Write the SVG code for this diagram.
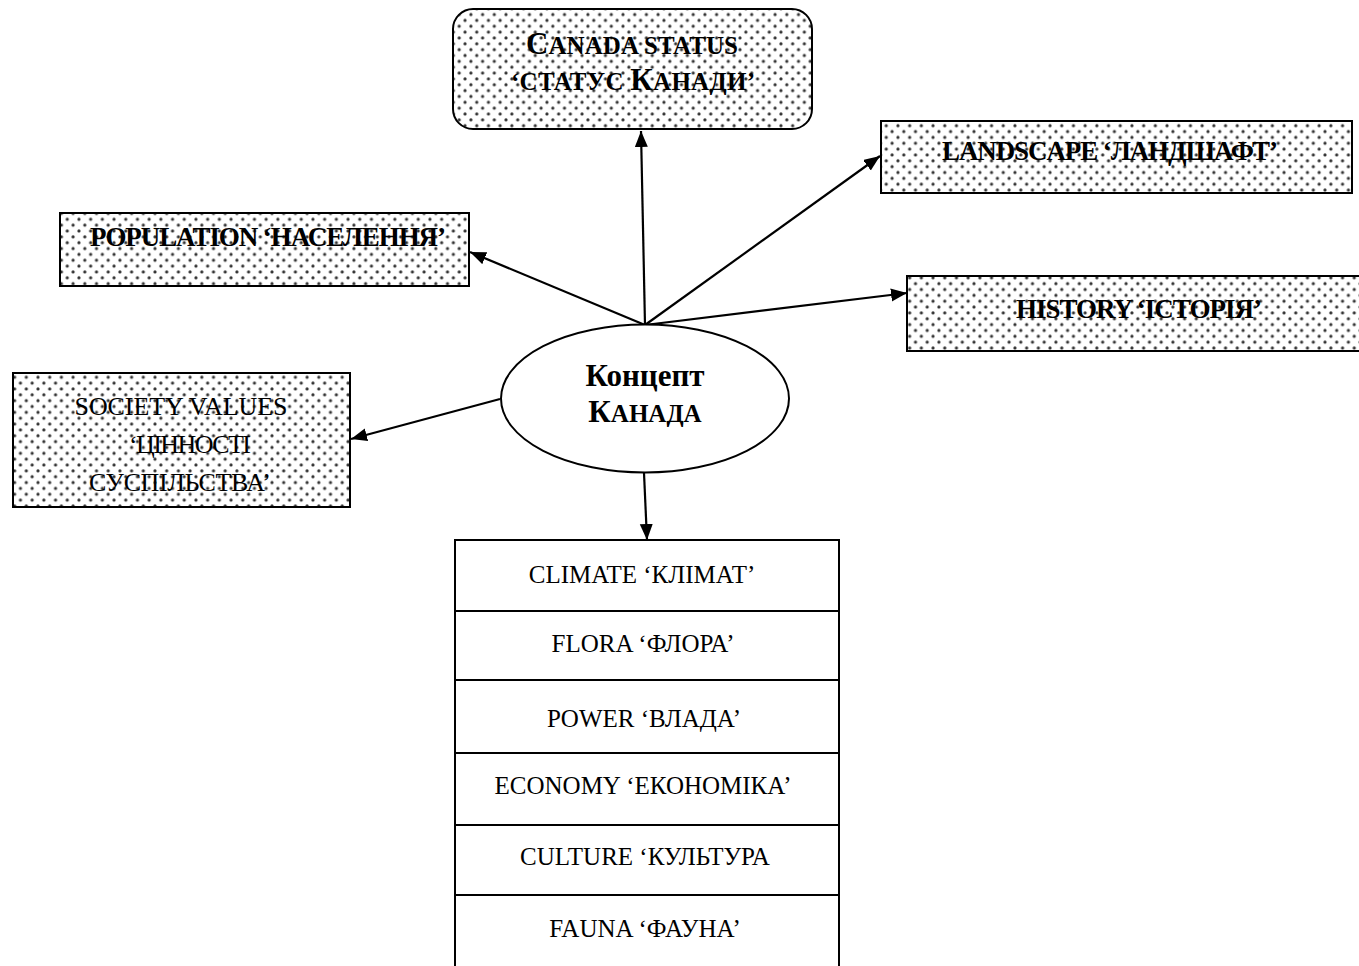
<svg xmlns="http://www.w3.org/2000/svg" width="1359" height="966" viewBox="0 0 1359 966">
  <style>
    .box { fill: url(#dots); stroke: #000; stroke-width: 2; }
    .plain { fill: #fff; stroke: #000; stroke-width: 2; }
    .lbl { font-family: "Liberation Serif", "Times New Roman", serif; fill: #000; }
    .b { font-weight: bold; }
    .edge { stroke: #000; stroke-width: 2.2; fill: none; marker-end: url(#arrow); }
  </style>
  <defs>
    <pattern id="dots" width="11.7" height="11.7" patternUnits="userSpaceOnUse">
      <rect width="11.7" height="11.7" fill="#fff"/>
      <circle cx="2.9" cy="2.9" r="1.6" fill="#333"/>
      <circle cx="8.75" cy="8.75" r="1.6" fill="#333"/>
    </pattern>
    <marker id="arrow" markerUnits="userSpaceOnUse" markerWidth="18" markerHeight="14" refX="16" refY="6.5" orient="auto">
      <path d="M0,0 L16,6.5 L0,13 Z" fill="#000"/>
    </marker>
  </defs>

  <!-- connectors -->
  <g id="connectors">
    <path class="edge" d="M645,325 L641,131"/>
    <path class="edge" d="M645,325 L880,156"/>
    <path class="edge" d="M645,325 L470,252"/>
    <path class="edge" d="M645,325 L907,293"/>
    <path class="edge" d="M500,399 L351,439"/>
    <path class="edge" d="M644,473 L647,540"/>
  </g>

  <!-- central concept -->
  <g id="concept">
    <ellipse class="plain" cx="645" cy="398.5" rx="144" ry="74"/>
    <text class="lbl b" x="645" y="386" font-size="31" text-anchor="middle">Концепт</text>
    <text class="lbl b" x="645" y="422" font-size="31" text-anchor="middle">К<tspan font-size="25">АНАДА</tspan></text>
  </g>

  <g id="canada-status">
    <rect class="box" x="453" y="9" width="359" height="120" rx="20" ry="20"/>
    <text class="lbl b" x="632" y="54" font-size="31" text-anchor="middle" textLength="212">C<tspan font-size="25">ANADA STATUS</tspan></text>
    <text class="lbl b" x="633" y="90" font-size="25" text-anchor="middle" textLength="244">‘СТАТУС <tspan font-size="31">К</tspan>АНАДИ’</text>
  </g>

  <g id="landscape">
    <rect class="box" x="881" y="121" width="471" height="72"/>
    <text class="lbl b" x="1110" y="160" font-size="27" text-anchor="middle" textLength="336">LANDSCAPE ‘ЛАНДШАФТ’</text>
  </g>

  <g id="population">
    <rect class="box" x="60" y="213" width="409" height="73"/>
    <text class="lbl b" x="268" y="246" font-size="27" text-anchor="middle" textLength="356">POPULATION ‘НАСЕЛЕННЯ’</text>
  </g>

  <g id="history">
    <rect class="box" x="907" y="276" width="470" height="75"/>
    <text class="lbl b" x="1139" y="318" font-size="27" text-anchor="middle" textLength="246">HISTORY ‘ІСТОРІЯ’</text>
  </g>

  <g id="society-values">
    <rect class="box" x="13" y="373" width="337" height="134"/>
    <text class="lbl" x="181" y="415" font-size="26" text-anchor="middle" textLength="213">SOCIETY VALUES</text>
    <text class="lbl" x="190" y="453" font-size="26" text-anchor="middle" textLength="122">‘ЦІННОСТІ</text>
    <text class="lbl" x="180" y="491" font-size="26" text-anchor="middle" textLength="182">СУСПІЛЬСТВА’</text>
  </g>

  <!-- stacked list of aspects -->
  <g id="aspects">
    <rect class="plain" x="455" y="540" width="384" height="440"/>
    <path d="M455,611 H839 M455,680 H839 M455,753 H839 M455,825 H839 M455,895 H839" stroke="#000" stroke-width="2"/>
    <text class="lbl" x="642" y="583" font-size="25" text-anchor="middle">CLIMATE ‘КЛІМАТ’</text>
    <text class="lbl" x="643" y="652" font-size="25" text-anchor="middle">FLORA ‘ФЛОРА’</text>
    <text class="lbl" x="644" y="727" font-size="25" text-anchor="middle">POWER ‘ВЛАДА’</text>
    <text class="lbl" x="643" y="794" font-size="25" text-anchor="middle">ECONOMY ‘ЕКОНОМІКА’</text>
    <text class="lbl" x="645" y="865" font-size="25" text-anchor="middle">CULTURE ‘КУЛЬТУРА</text>
    <text class="lbl" x="645" y="937" font-size="25" text-anchor="middle">FAUNA ‘ФАУНА’</text>
  </g>
</svg>
